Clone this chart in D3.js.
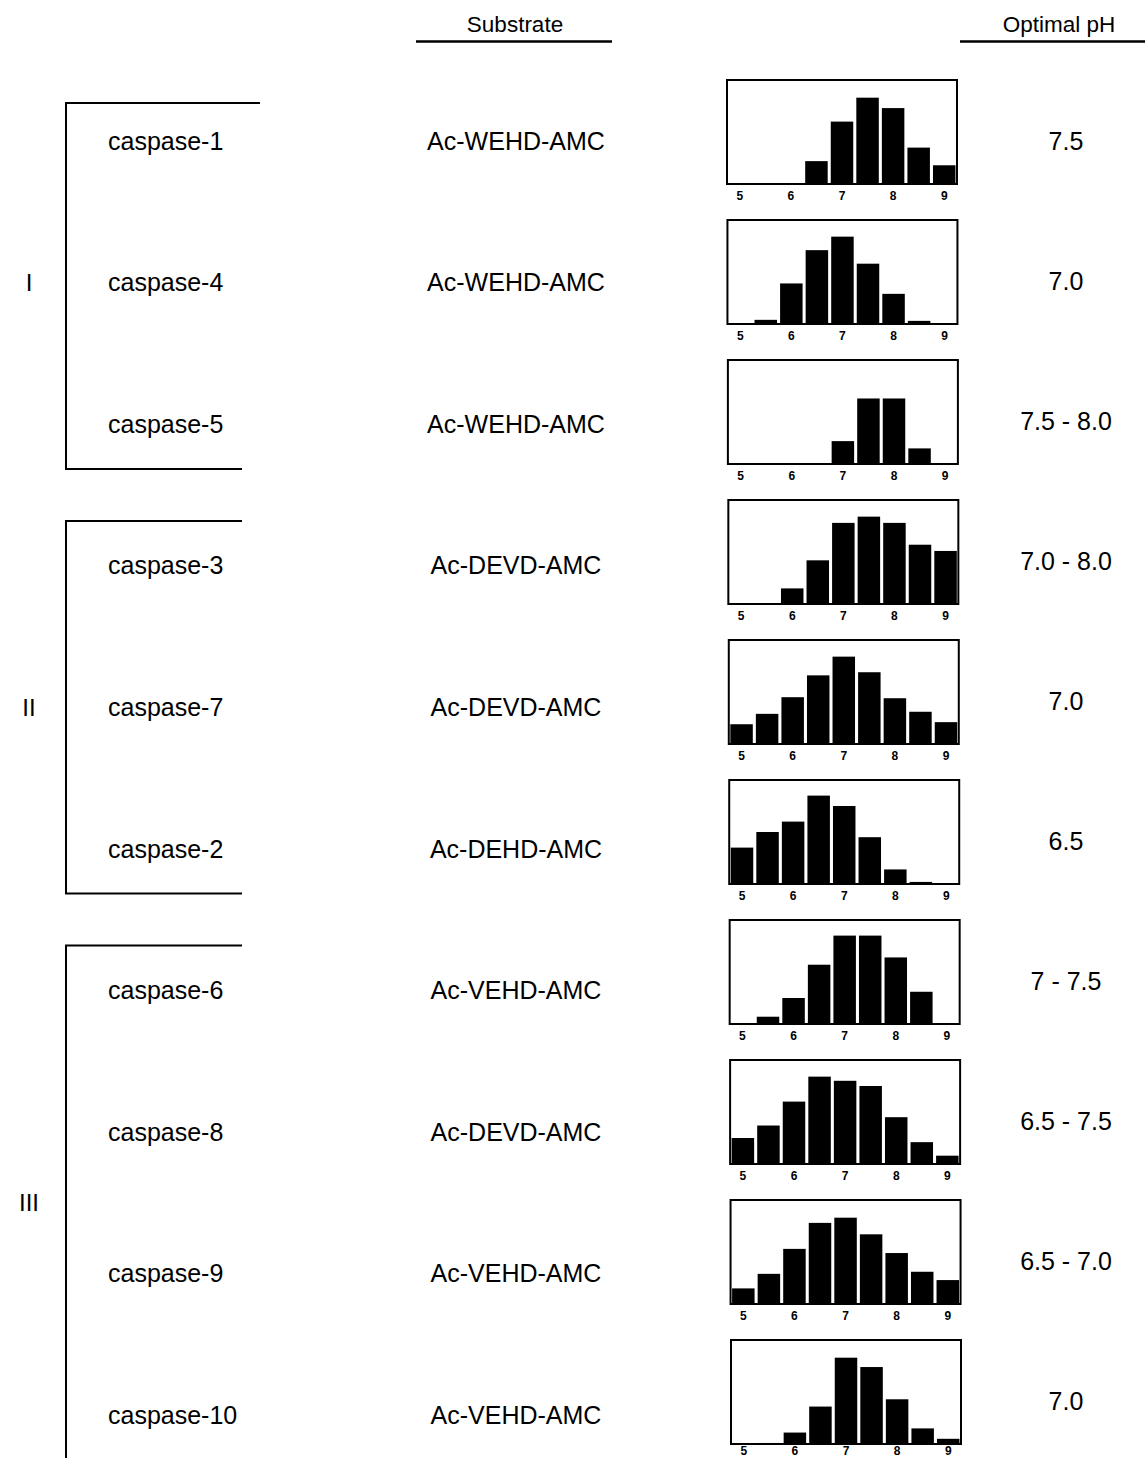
<!DOCTYPE html>
<html>
<head>
<meta charset="utf-8">
<script src="https://cdn.jsdelivr.net/npm/d3@7"></script>
<style>
  body { margin: 0; background: #fff; }
  svg { display: block; font-family: "Liberation Sans", Arial, Helvetica, sans-serif; }
</style>
</head>
<body>
<svg id="chart" width="1145" height="1458"></svg>
<script>
// pH values tested for each enzyme
const phValues = [5, 5.5, 6, 6.5, 7, 7.5, 8, 8.5, 9];
const phTicks = [5, 6, 7, 8, 9];

const caspases = ["caspase-1", "caspase-4", "caspase-5", "caspase-3", "caspase-7",
    "caspase-2", "caspase-6", "caspase-8", "caspase-9", "caspase-10"];
const substrates = ["Ac-WEHD-AMC", "Ac-WEHD-AMC", "Ac-WEHD-AMC", "Ac-DEVD-AMC", "Ac-DEVD-AMC",
    "Ac-DEHD-AMC", "Ac-VEHD-AMC", "Ac-DEVD-AMC", "Ac-VEHD-AMC", "Ac-VEHD-AMC"];
const optimalPh = ["7.5", "7.0", "7.5 - 8.0", "7.0 - 8.0", "7.0",
    "6.5", "7 - 7.5", "6.5 - 7.5", "6.5 - 7.0", "7.0"];

// relative activity at each pH
const activity = [
    [0, 0, 0, 22, 60, 83, 73, 35, 18],
    [0, 4, 39, 71, 84, 58, 29, 3, 0],
    [0, 0, 0, 0, 22, 63, 63, 15, 0],
    [0, 0, 15, 42, 78, 84, 78, 57, 51],
    [19, 29, 45, 66, 84, 69, 44, 31, 21],
    [35, 50, 60, 85, 75, 45, 14, 2, 0],
    [0, 7, 25, 57, 85, 85, 64, 31, 0],
    [25, 37, 60, 84, 80, 75, 45, 21, 8],
    [15, 29, 53, 78, 83, 67, 49, 31, 23],
    [0, 1, 11, 36, 83, 74, 43, 15, 5]
];

const groups = [
    { label: "I", from: 0, to: 2 },
    { label: "II", from: 3, to: 5 },
    { label: "III", from: 6, to: 9 }
];

const svg = d3.select("#chart");
const n = caspases.length;

// row positions
const textY = d3.scaleLinear().domain([0, n - 1]).range([141, 1415]);
const chartTop = d3.scaleLinear().domain([0, n - 1]).range([80, 1340]);
const chartLeft = d3.scaleLinear().domain([0, n - 1]).range([727, 731]);
const chartW = 230, chartH = 104;

const x = d3.scaleBand().domain(phValues).range([0, chartW]).paddingInner(0.12).paddingOuter(0.06);
const y = d3.scaleLinear().domain([0, 100]).range([chartH, 0]);

// headers
const headers = [
    { text: "Substrate", cx: 515, x0: 416, x1: 612 },
    { text: "Optimal pH", cx: 1059, x0: 960, x1: 1145 }
];
const head = svg.append("g").attr("class", "headers");
head.selectAll("text")
    .data(headers)
    .enter()
    .append("text")
    .attr("x", d => d.cx)
    .attr("y", 32)
    .attr("text-anchor", "middle")
    .attr("font-size", 22.5)
    .text(d => d.text);
head.selectAll("line")
    .data(headers)
    .enter()
    .append("line")
    .attr("x1", d => d.x0)
    .attr("x2", d => d.x1)
    .attr("y1", 41.5)
    .attr("y2", 41.5)
    .attr("stroke", "#000")
    .attr("stroke-width", 2.5);

// group brackets
const brk = svg.append("g").attr("class", "brackets");
groups.forEach((g, gi) => {
    const top = g.from === 0 ? textY(0) - 38 : (textY(g.from - 1) + textY(g.from)) / 2 + 26;
    const bottom = g.to === n - 1 ? 1458 : (textY(g.to) + textY(g.to + 1)) / 2 - 26;
    brk.append("line")
        .attr("x1", 66).attr("x2", 66)
        .attr("y1", top).attr("y2", bottom)
        .attr("stroke", "#000").attr("stroke-width", 2);
    brk.append("line")
        .attr("x1", 65).attr("x2", gi === 0 ? 260 : 242)
        .attr("y1", top).attr("y2", top)
        .attr("stroke", "#000").attr("stroke-width", 2);
    if (g.to !== n - 1) {
        brk.append("line")
            .attr("x1", 65).attr("x2", 242)
            .attr("y1", bottom).attr("y2", bottom)
            .attr("stroke", "#000").attr("stroke-width", 2);
    }
    brk.append("text")
        .attr("x", 29)
        .attr("y", (textY(g.from) + textY(g.to)) / 2)
        .attr("dy", "0.35em")
        .attr("text-anchor", "middle")
        .attr("font-size", 24)
        .text(g.label);
});

// one row per caspase
const rows = svg.append("g").attr("class", "rows")
    .selectAll("g.row")
    .data(caspases.map((c, i) => ({ name: c, substrate: substrates[i], ph: optimalPh[i], values: activity[i], i })))
    .enter()
    .append("g")
    .attr("class", "row");

rows.append("text")
    .attr("x", 108)
    .attr("y", d => textY(d.i))
    .attr("dy", "0.35em")
    .attr("font-size", 25)
    .text(d => d.name);

rows.append("text")
    .attr("x", 516)
    .attr("y", d => textY(d.i))
    .attr("dy", "0.35em")
    .attr("text-anchor", "middle")
    .attr("font-size", 25)
    .text(d => d.substrate);

rows.append("text")
    .attr("x", 1066)
    .attr("y", d => chartTop(d.i) + chartH / 2 + 9)
    .attr("dy", "0.35em")
    .attr("text-anchor", "middle")
    .attr("font-size", 25)
    .text(d => d.ph);

// small bar charts
const charts = rows.append("g")
    .attr("class", "mini")
    .attr("transform", d => `translate(${chartLeft(d.i)},${chartTop(d.i)})`);

charts.selectAll("rect.bar")
    .data(d => d.values.map((v, k) => ({ ph: phValues[k], v })))
    .enter()
    .append("rect")
    .attr("class", "bar")
    .attr("x", d => x(d.ph))
    .attr("width", x.bandwidth())
    .attr("y", d => y(d.v))
    .attr("height", d => chartH - y(d.v))
    .attr("fill", "#000");

charts.append("rect")
    .attr("class", "frame")
    .attr("width", chartW)
    .attr("height", chartH)
    .attr("fill", "none")
    .attr("stroke", "#000")
    .attr("stroke-width", 2);

charts.append("g")
    .attr("transform", `translate(0,${chartH})`)
    .each(function (d) {
        // last row sits at the page edge, so its labels are pulled up a little
        d3.select(this).call(
            d3.axisBottom(x).tickValues(phTicks).tickSize(0).tickPadding(d.i === n - 1 ? 2 : 7)
        );
    })
    .call(g => g.select(".domain").remove())
    .call(g => g.selectAll("text")
        .attr("font-size", 12)
        .attr("font-weight", "bold")
        .attr("font-family", "'Liberation Sans', Arial, sans-serif")
        .attr("fill", "#000"));
</script>
</body>
</html>
